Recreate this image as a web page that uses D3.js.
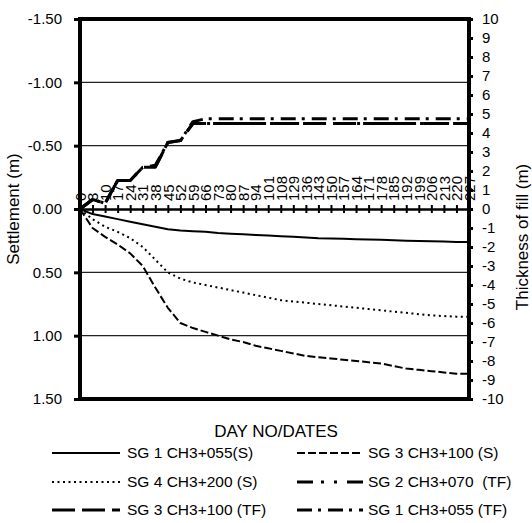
<!DOCTYPE html>
<html>
<head>
<meta charset="utf-8">
<script src="https://cdn.jsdelivr.net/npm/d3@7/dist/d3.min.js"></script>
<style>
  html, body { margin: 0; padding: 0; background: #fff; }
  svg { display: block; font-family: "Liberation Sans", Arial, sans-serif; }
</style>
</head>
<body>
<svg id="chart" width="532" height="523"></svg>
<script>
// ---------------- DATA ----------------
const days = ["0","3","10","17","24","31","38","45","52","59","66","73","80","87","94","101","108",
              "129","136","143","150","157","164","171","178","185","192","199","206","213","220","227"];

// Settlement (m), left axis (positive = downward)
const sg1S = [0, 0.04, 0.06, 0.08, 0.10, 0.12, 0.14, 0.16, 0.17, 0.175, 0.18, 0.19, 0.195, 0.20, 0.205, 0.21, 0.215,
              0.22, 0.225, 0.23, 0.232, 0.235, 0.238, 0.24, 0.243, 0.246, 0.25, 0.252, 0.255, 0.257, 0.26, 0.26];
const sg3S = [0, 0.15, 0.22, 0.28, 0.35, 0.45, 0.62, 0.78, 0.90, 0.94, 0.97, 1.00, 1.03, 1.05, 1.08, 1.10, 1.12,
              1.14, 1.16, 1.17, 1.18, 1.19, 1.20, 1.21, 1.22, 1.24, 1.26, 1.27, 1.28, 1.29, 1.30, 1.30];
const sg4S = [0, 0.08, 0.14, 0.18, 0.23, 0.30, 0.40, 0.50, 0.55, 0.58, 0.60, 0.62, 0.64, 0.66, 0.68, 0.70, 0.72,
              0.73, 0.74, 0.75, 0.76, 0.77, 0.78, 0.79, 0.80, 0.81, 0.82, 0.83, 0.84, 0.845, 0.85, 0.85];

// Thickness of fill (m), right axis
const sg2TF = [0, 0.5, 0.3, 1.5, 1.5, 2.2, 2.2, 3.5, 3.6, 4.5, 4.5, 4.5, 4.5, 4.5, 4.5, 4.5, 4.5,
               4.5, 4.5, 4.5, 4.5, 4.5, 4.5, 4.5, 4.5, 4.5, 4.5, 4.5, 4.5, 4.5, 4.5, 4.5];
const sg3TF = [0, 0.5, 0.3, 1.5, 1.5, 2.2, 2.2, 3.5, 3.6, 4.5, 4.5, 4.5, 4.5, 4.5, 4.5, 4.5, 4.5,
               4.5, 4.5, 4.5, 4.5, 4.5, 4.5, 4.5, 4.5, 4.5, 4.5, 4.5, 4.5, 4.5, 4.5, 4.5];
const sg1TF = [0, 0.5, 0.3, 1.5, 1.5, 2.2, 2.3, 3.5, 3.6, 4.6, 4.75, 4.75, 4.75, 4.75, 4.75, 4.75, 4.75,
               4.75, 4.75, 4.75, 4.75, 4.75, 4.75, 4.75, 4.75, 4.75, 4.75, 4.75, 4.75, 4.75, 4.75, 4.75];

const leftTicks = [-1.5, -1.0, -0.5, 0, 0.5, 1.0, 1.5];
const rightTicks = [10, 9, 8, 7, 6, 5, 4, 3, 2, 1, 0, -1, -2, -3, -4, -5, -6, -7, -8, -9, -10];
const gridValues = [-1.0, -0.5, 0.5, 1.0];

const seriesNames = ["SG 1 CH3+055(S)", "SG 3 CH3+100 (S)", "SG 4 CH3+200 (S)",
                     "SG 2 CH3+070  (TF)", "SG 3 CH3+100 (TF)", "SG 1 CH3+055 (TF)"];

// ---------------- STYLES ----------------
const styles = {
  "SG 1 CH3+055(S)":    {w: 2,   dash: null},
  "SG 3 CH3+100 (S)":   {w: 2,   dash: "8,3"},
  "SG 4 CH3+200 (S)":   {w: 2,   dash: "2,3.5"},
  "SG 2 CH3+070  (TF)": {w: 3,   dash: "16,8,3,10,3,10"},
  "SG 3 CH3+100 (TF)":  {w: 3,   dash: "23,7"},
  "SG 1 CH3+055 (TF)":  {w: 3,   dash: "15,6,3,7"}
};

const series = [
  {name: seriesNames[0], values: sg1S, axis: "L"},
  {name: seriesNames[1], values: sg3S, axis: "L"},
  {name: seriesNames[2], values: sg4S, axis: "L"},
  {name: seriesNames[3], values: sg2TF, axis: "R"},
  {name: seriesNames[4], values: sg3TF, axis: "R"},
  {name: seriesNames[5], values: sg1TF, axis: "R"}
];

// ---------------- LAYOUT ----------------
const L = 80, R = 469, T = 19, B = 399;
const svg = d3.select("#chart");

const x = d3.scalePoint().domain(days).range([L, R]);
const yL = d3.scaleLinear().domain([-1.5, 1.5]).range([T, B]);
const yR = d3.scaleLinear().domain([10, -10]).range([T, B]);

// gridlines
svg.append("g").selectAll("line").data(gridValues).join("line")
  .attr("x1", L).attr("x2", R)
  .attr("y1", d => yL(d)).attr("y2", d => yL(d))
  .attr("stroke", "#222").attr("stroke-width", 1.2);

// series
const lineGen = (scale) => d3.line().x((d, i) => x(days[i])).y(d => scale(d));
svg.append("g").selectAll("path").data(series).join("path")
  .attr("d", s => lineGen(s.axis === "L" ? yL : yR)(s.values))
  .attr("fill", "none").attr("stroke", "#000")
  .attr("stroke-width", s => styles[s.name].w)
  .attr("stroke-dasharray", s => styles[s.name].dash)
  .attr("stroke-linejoin", "round");

// x axis at settlement 0 with crossing ticks
const xAxis = svg.append("g").attr("transform", `translate(0,${yL(0)})`)
  .call(d3.axisBottom(x).tickSize(4).tickSizeOuter(0));
xAxis.select(".domain").attr("stroke", "#000").attr("stroke-width", 2.5);
xAxis.selectAll(".tick line").attr("y1", -4).attr("y2", 4).attr("stroke-width", 2);
xAxis.selectAll(".tick text")
  .attr("transform", "rotate(-90)")
  .attr("x", 8).attr("y", 0).attr("dy", "0.35em")
  .attr("text-anchor", "start")
  .attr("font-size", 15).attr("font-family", "Liberation Sans, Arial, sans-serif").attr("fill", "#000");

// plot border
svg.append("rect").attr("x", L).attr("y", T).attr("width", R - L).attr("height", B - T)
  .attr("fill", "none").attr("stroke", "#000").attr("stroke-width", 4);

// left axis
const yAxisL = svg.append("g").attr("transform", `translate(${L},0)`)
  .call(d3.axisLeft(yL).tickValues(leftTicks).tickFormat(d => d.toFixed(2)).tickSize(6).tickPadding(12));
yAxisL.select(".domain").remove();
yAxisL.selectAll(".tick line").attr("stroke-width", 3);
yAxisL.selectAll(".tick text").attr("font-size", 15).attr("font-family", "Liberation Sans, Arial, sans-serif").attr("fill", "#000");

// right axis
const yAxisR = svg.append("g").attr("transform", `translate(${R},0)`)
  .call(d3.axisRight(yR).tickValues(rightTicks).tickFormat(d => String(d)).tickSize(4).tickPadding(9));
yAxisR.select(".domain").remove();
yAxisR.selectAll(".tick line").attr("stroke-width", 3);
yAxisR.selectAll(".tick text").attr("font-size", 15).attr("font-family", "Liberation Sans, Arial, sans-serif").attr("fill", "#000");

// axis titles
svg.append("text").attr("transform", `translate(19,${(T + B) / 2}) rotate(-90)`)
  .attr("text-anchor", "middle").attr("font-size", 17).text("Settlement (m)");
svg.append("text").attr("transform", `translate(528,${(T + B) / 2 + 28}) rotate(-90)`)
  .attr("text-anchor", "middle").attr("font-size", 17).text("Thickness of fill (m)");
svg.append("text").attr("x", 276).attr("y", 437)
  .attr("text-anchor", "middle").attr("font-size", 17).text("DAY NO/DATES");

// legend
const legendOrder = [seriesNames[0], seriesNames[1], seriesNames[2], seriesNames[3], seriesNames[4], seriesNames[5]];
const legendPos = [
  {x1: 52, x2: 120, tx: 127, y: 453}, {x1: 297, x2: 363, tx: 368, y: 453},
  {x1: 52, x2: 120, tx: 127, y: 482}, {x1: 297, x2: 363, tx: 368, y: 482},
  {x1: 52, x2: 120, tx: 127, y: 510}, {x1: 297, x2: 363, tx: 368, y: 510}
];
const leg = svg.append("g").selectAll("g").data(legendOrder).join("g");
leg.append("line")
  .attr("x1", (d, i) => legendPos[i].x1).attr("x2", (d, i) => legendPos[i].x2)
  .attr("y1", (d, i) => legendPos[i].y).attr("y2", (d, i) => legendPos[i].y)
  .attr("stroke", "#000").attr("stroke-width", d => styles[d].w)
  .attr("stroke-dasharray", d => styles[d].dash);
leg.append("text")
  .attr("x", (d, i) => legendPos[i].tx).attr("y", (d, i) => legendPos[i].y)
  .attr("dy", "0.35em").attr("font-size", 15.5).style("white-space", "pre")
  .text(d => d);
</script>
</body>
</html>
